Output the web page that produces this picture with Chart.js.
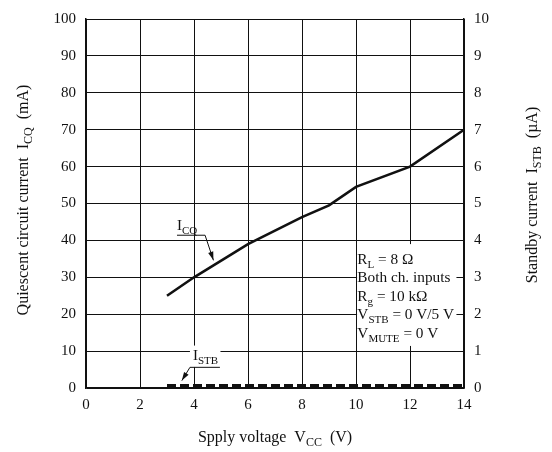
<!DOCTYPE html>
<html>
<head>
<meta charset="utf-8">
<script src="https://cdn.jsdelivr.net/npm/chart.js@4/dist/chart.umd.min.js"></script>
<style>
  body { margin: 0; background: #fff; }
  canvas { display: block; }
</style>
</head>
<body>
<canvas id="myChart" width="552" height="452"></canvas>
<script>
"use strict";

// Supply voltage points for the quiescent current curve
const vcc = [3, 4, 6, 8, 9, 10, 12, 14];
const icq = [25, 30, 39, 46.3, 49.5, 54.5, 60, 70];
// Standby current (uA, right axis)
const stbVcc = [3, 14];
const istb = [0.06, 0.06];

const FONT = "'Liberation Serif', 'Times New Roman', serif";
const INK = "#111";

// Draw text made of parts, where some parts are subscripts
function drawParts(ctx, parts, x, y, size) {
  let cx = x;
  parts.forEach(p => {
    const sub = Array.isArray(p);
    const txt = sub ? p[0] : p;
    ctx.font = `${sub ? Math.round(size * 0.72) : size}px ${FONT}`;
    ctx.fillText(txt, cx, sub ? y + size * 0.28 : y);
    cx += ctx.measureText(txt).width;
  });
  return cx - x;
}

function partsWidth(ctx, parts, size) {
  let w = 0;
  parts.forEach(p => {
    const sub = Array.isArray(p);
    ctx.font = `${sub ? Math.round(size * 0.72) : size}px ${FONT}`;
    w += ctx.measureText(sub ? p[0] : p).width;
  });
  return w;
}

function arrow(ctx, x1, y1, x2, y2) {
  ctx.beginPath();
  ctx.moveTo(x1, y1);
  ctx.lineTo(x2, y2);
  ctx.stroke();
  const a = Math.atan2(y2 - y1, x2 - x1);
  ctx.beginPath();
  ctx.moveTo(x2, y2);
  ctx.lineTo(x2 - 9 * Math.cos(a - 0.3), y2 - 9 * Math.sin(a - 0.3));
  ctx.lineTo(x2 - 9 * Math.cos(a + 0.3), y2 - 9 * Math.sin(a + 0.3));
  ctx.closePath();
  ctx.fill();
}

const notes = {
  id: "notes",
  afterDatasetsDraw(chart) {
    const ctx = chart.ctx;
    const xs = chart.scales.x;
    const ys = chart.scales.y;
    const px = v => xs.getPixelForValue(v);
    const py = v => ys.getPixelForValue(v);
    ctx.save();
    ctx.fillStyle = INK;
    ctx.strokeStyle = INK;
    ctx.lineWidth = 1;
    ctx.textBaseline = "alphabetic";
    ctx.textAlign = "left";

    // I_CQ label with leader
    drawParts(ctx, ["I", ["CQ"]], px(3.37), py(42.8), 15);
    ctx.beginPath();
    ctx.moveTo(px(3.37), py(41.4));
    ctx.lineTo(px(4.41), py(41.4));
    ctx.stroke();
    arrow(ctx, px(4.41), py(41.4), px(4.72), py(34.6));

    // I_STB label with leader
    ctx.fillStyle = "#fff";
    ctx.fillRect(px(3.85), py(11.5), px(4.98) - px(3.85), py(5.7) - py(11.5));
    ctx.fillStyle = INK;
    drawParts(ctx, ["I", ["STB"]], px(3.96), py(7.6), 15);
    ctx.beginPath();
    ctx.moveTo(px(3.85), py(5.6));
    ctx.lineTo(px(4.96), py(5.6));
    ctx.stroke();
    arrow(ctx, px(3.85), py(5.6), px(3.55), py(2.0));

    // condition box
    ctx.fillStyle = "#fff";
    ctx.fillRect(px(10.04), py(39.0), px(13.72) - px(10.04), py(11.4) - py(39.0));
    ctx.fillStyle = INK;
    const lines = [
      ["R", ["L"], " = 8 \u03A9"],
      ["Both ch. inputs"],
      ["R", ["g"], " = 10 k\u03A9"],
      ["V", ["STB"], " = 0 V/5 V"],
      ["V", ["MUTE"], " = 0 V"]
    ];
    lines.forEach((l, i) => {
      drawParts(ctx, l, px(10.05), py(33.7) + i * 18.5, 15.3);
    });

    // axis titles
    const xt = ["Spply voltage  V", ["CC"], "  (V)"];
    const w = partsWidth(ctx, xt, 16);
    drawParts(ctx, xt, 275 - w / 2, 442, 16);

    const lt = ["Quiescent circuit current  I", ["CQ"], "  (mA)"];
    ctx.save();
    ctx.translate(28, 200);
    ctx.rotate(-Math.PI / 2);
    drawParts(ctx, lt, -partsWidth(ctx, lt, 16) / 2, 0, 16);
    ctx.restore();

    const rt = ["Standby current  I", ["STB"], "  (\u00B5A)"];
    ctx.save();
    ctx.translate(537, 195);
    ctx.rotate(-Math.PI / 2);
    drawParts(ctx, rt, -partsWidth(ctx, rt, 16) / 2, 0, 16);
    ctx.restore();

    ctx.restore();
  }
};

const tickFont = { family: FONT, size: 15 };

new Chart(document.getElementById("myChart").getContext("2d"), {
  type: "line",
  data: {
    datasets: [
      {
        label: "ICQ",
        data: vcc.map((v, i) => ({ x: v, y: icq[i] })),
        borderColor: INK,
        borderWidth: 2.6,
        pointRadius: 0,
        tension: 0,
        yAxisID: "y"
      },
      {
        label: "ISTB",
        data: stbVcc.map((v, i) => ({ x: v, y: istb[i] })),
        borderColor: INK,
        borderWidth: 3.5,
        borderDash: [9, 4],
        pointRadius: 0,
        yAxisID: "y2"
      }
    ]
  },
  options: {
    responsive: false,
    animation: false,
    layout: { padding: { top: 14, left: 0, right: 0, bottom: 0 } },
    plugins: {
      legend: { display: false },
      tooltip: { enabled: false }
    },
    scales: {
      x: {
        type: "linear",
        min: 0,
        max: 14,
        ticks: { stepSize: 2, font: tickFont, color: INK, padding: 8 },
        grid: { color: INK, lineWidth: 1, drawTicks: false },
        border: { color: INK, width: 1.5 },
        afterFit: s => { s.height = 64; }
      },
      y: {
        position: "left",
        min: 0,
        max: 100,
        ticks: { stepSize: 10, font: tickFont, color: INK, padding: 10 },
        grid: { color: INK, lineWidth: 1, drawTicks: false },
        border: { color: INK, width: 1.5 },
        afterFit: s => { s.width = 86; }
      },
      y2: {
        position: "right",
        min: 0,
        max: 10,
        ticks: { stepSize: 1, font: tickFont, color: INK, padding: 10 },
        grid: { display: false, drawTicks: false },
        border: { color: INK, width: 1.5 },
        afterFit: s => { s.width = 88; }
      }
    }
  },
  plugins: [notes]
});
</script>
</body>
</html>
